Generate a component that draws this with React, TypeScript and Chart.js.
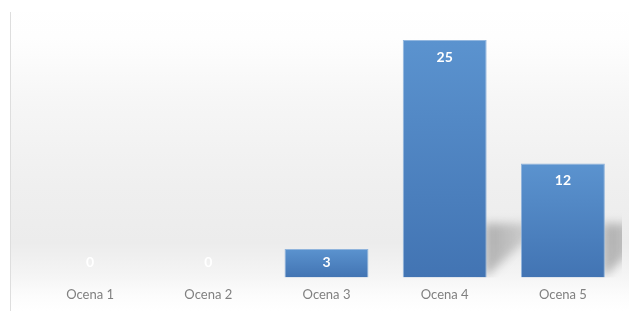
import React, { useEffect, useRef } from "react";
import { Chart, registerables } from "chart.js";

Chart.register(...registerables);

const categories = ["Ocena 1", "Ocena 2", "Ocena 3", "Ocena 4", "Ocena 5"];
const values = [0, 0, 3, 25, 12];
const yMax = 27;

const backgroundPlugin = {
  id: "bgPlugin",
  beforeDraw(chart: any) {
    const { ctx, width, height } = chart;
    ctx.save();
    ctx.fillStyle = "#ffffff";
    ctx.fillRect(0, 0, width, height);
    const g = ctx.createLinearGradient(0, 0, 0, height);
    g.addColorStop(0, "#ffffff");
    g.addColorStop(0.12, "#fefefe");
    g.addColorStop(0.33, "#f6f6f6");
    g.addColorStop(0.6, "#efefef");
    g.addColorStop(0.78, "#ececec");
    g.addColorStop(0.88, "#f4f4f4");
    g.addColorStop(0.95, "#fcfcfc");
    g.addColorStop(1, "#ffffff");
    ctx.fillStyle = g;
    ctx.fillRect(11, 12, width - 11, height - 12);
    ctx.strokeStyle = "#dedede";
    ctx.lineWidth = 1;
    ctx.beginPath();
    ctx.moveTo(10.5, 12);
    ctx.lineTo(10.5, height);
    ctx.stroke();
    ctx.restore();
  },
  beforeDatasetsDraw(chart: any) {
    const { ctx, chartArea } = chart;
    const meta = chart.getDatasetMeta(0);
    ctx.save();
    ctx.beginPath();
    ctx.rect(chartArea.left - 20, chartArea.top, chartArea.right - chartArea.left + 20, chartArea.bottom - chartArea.top);
    ctx.clip();
    ctx.filter = "blur(5px)";
    meta.data.forEach((bar: any) => {
      const h = bar.base - bar.y;
      if (h <= 60) return;
      const sh = 54;
      const right = bar.x + bar.width / 2;
      const g = ctx.createLinearGradient(right, 0, right + 70, 0);
      g.addColorStop(0, "rgba(115,115,115,0.5)");
      g.addColorStop(1, "rgba(115,115,115,0.08)");
      ctx.fillStyle = g;
      ctx.beginPath();
      ctx.moveTo(right - 2, bar.base);
      ctx.lineTo(right - 2, bar.base - sh);
      ctx.lineTo(right + 70, bar.base - sh);
      ctx.lineTo(right + 70, bar.base - 38);
      ctx.lineTo(right + 38, bar.base - 36);
      ctx.closePath();
      ctx.fill();
    });
    ctx.restore();
  },
  afterDatasetsDraw(chart: any) {
    const { ctx } = chart;
    const meta = chart.getDatasetMeta(0);
    ctx.save();
    ctx.fillStyle = "#ffffff";
    ctx.font = "bold 14px Lato";
    ctx.textAlign = "center";
    ctx.textBaseline = "middle";
    meta.data.forEach((bar: any, i: number) => {
      const y = Math.min(bar.y + 17, bar.base - 15);
      ctx.fillText(String(values[i]), bar.x, y);
    });
    ctx.restore();
  },
};

export default function App() {
  const ref = useRef<HTMLCanvasElement>(null);
  useEffect(() => {
    const chart = new Chart(ref.current!, {
      type: "bar",
      data: {
        labels: categories,
        datasets: [
          {
            data: values,
            backgroundColor: (c: any) => {
              const chart = c.chart;
              if (!chart.chartArea || c.type !== "data") return "#4f86c6";
              const ys = chart.scales.y;
              const top = ys.getPixelForValue(c.raw);
              const base = ys.getPixelForValue(0);
              if (!(base > top)) return "#4f86c6";
              const g = chart.ctx.createLinearGradient(0, top, 0, base);
              g.addColorStop(0, "#5b93cf");
              g.addColorStop(1, "#4274b3");
              return g;
            },
            borderColor: "rgba(120,165,215,0.8)",
            borderWidth: 1,
            barPercentage: 0.71,
            categoryPercentage: 1,
          },
        ],
      },
      options: {
        animation: false,
        responsive: false,
        maintainAspectRatio: false,
        layout: { padding: { left: 31, right: 7, top: 21, bottom: -2 } },
        plugins: { legend: { display: false }, tooltip: { enabled: false } },
        scales: {
          y: { display: false, min: 0, max: yMax },
          x: {
            grid: { display: false, drawTicks: false },
            border: { display: false },
            ticks: { color: "#808080", font: { family: "Lato", size: 13 }, padding: 10 },
          },
        },
      },
      plugins: [backgroundPlugin],
    });
    return () => chart.destroy();
  }, []);
  return (
    <div style={{ position: "absolute", left: 0, top: 0, width: 629, height: 311 }}>
      <canvas ref={ref} width={629} height={311} style={{ width: 629, height: 311 }} />
    </div>
  );
}
